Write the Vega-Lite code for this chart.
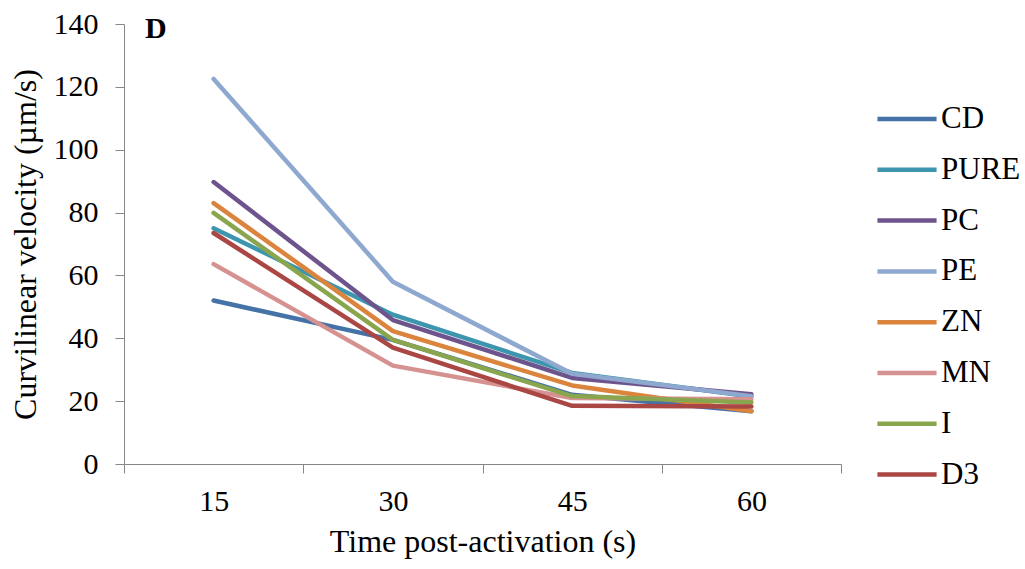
{
  "$schema": "https://vega.github.io/schema/vega-lite/v6.json",
  "autosize": "none",
  "width": 717,
  "height": 440,
  "padding": {"left": 124, "top": 24, "right": 184, "bottom": 105},
  "background": "white",
  "config": {
    "view": {"stroke": null},
    "font": "Liberation Serif",
    "axis": {"grid": false, "domainColor": "#868686", "tickColor": "#868686", "tickSize": 9, "labelFont": "Liberation Serif", "titleFont": "Liberation Serif", "labelColor": "black", "titleColor": "black", "titleFontWeight": "normal", "labelFontSize": 30, "titleFontSize": 32},
    "legend": {"labelFont": "Liberation Serif"}
  },
  "datasets": {
    "series": [
      {"t": "15", "g": "CD", "v": 52}, {"t": "30", "g": "CD", "v": 39.5}, {"t": "45", "g": "CD", "v": 22}, {"t": "60", "g": "CD", "v": 16.8},
      {"t": "15", "g": "PURE", "v": 75}, {"t": "30", "g": "PURE", "v": 47.5}, {"t": "45", "g": "PURE", "v": 29}, {"t": "60", "g": "PURE", "v": 21.5},
      {"t": "15", "g": "PC", "v": 89.7}, {"t": "30", "g": "PC", "v": 45.8}, {"t": "45", "g": "PC", "v": 27.4}, {"t": "60", "g": "PC", "v": 22.2},
      {"t": "15", "g": "PE", "v": 122.5}, {"t": "30", "g": "PE", "v": 58}, {"t": "45", "g": "PE", "v": 28.7}, {"t": "60", "g": "PE", "v": 21.6},
      {"t": "15", "g": "ZN", "v": 83}, {"t": "30", "g": "ZN", "v": 42.3}, {"t": "45", "g": "ZN", "v": 25}, {"t": "60", "g": "ZN", "v": 16.8},
      {"t": "15", "g": "MN", "v": 63.6}, {"t": "30", "g": "MN", "v": 31.3}, {"t": "45", "g": "MN", "v": 21}, {"t": "60", "g": "MN", "v": 20.6},
      {"t": "15", "g": "I", "v": 79.9}, {"t": "30", "g": "I", "v": 39.5}, {"t": "45", "g": "I", "v": 21.6}, {"t": "60", "g": "I", "v": 19.6},
      {"t": "15", "g": "D3", "v": 73.5}, {"t": "30", "g": "D3", "v": 37}, {"t": "45", "g": "D3", "v": 18.5}, {"t": "60", "g": "D3", "v": 18.3}
    ],
    "panel": [{"t": "15", "label": "D", "top": 138.1, "bottom": 128.5}]
  },
  "encoding": {
    "x": {"field": "t", "type": "ordinal", "sort": ["15", "30", "45", "60"],
      "scale": {"type": "band", "paddingInner": 0, "paddingOuter": 0},
      "axis": {"title": "Time post-activation (s)", "labelAngle": 0, "tickBand": "extent", "labelPadding": 13, "titlePadding": 10, "labelFont": "Liberation Serif", "titleFont": "Liberation Serif"}}
  },
  "layer": [
    {
      "data": {"name": "series"},
      "mark": {"type": "line", "strokeWidth": 4.5, "strokeCap": "round", "strokeJoin": "round"},
      "encoding": {
        "y": {"field": "v", "type": "quantitative",
          "scale": {"domain": [0, 140], "nice": false},
          "axis": {"title": "Curvilinear velocity (µm/s)", "values": [0, 20, 40, 60, 80, 100, 120, 140], "labelPadding": 17, "titlePadding": 11, "labelFont": "Liberation Serif", "titleFont": "Liberation Serif"}},
        "color": {"field": "g", "type": "nominal",
          "sort": ["CD", "PURE", "PC", "PE", "ZN", "MN", "I", "D3"],
          "scale": {"domain": ["CD", "PURE", "PC", "PE", "ZN", "MN", "I", "D3"], "range": ["#4572A7", "#3D96AE", "#6E548D", "#8EA8D0", "#DB843D", "#D59290", "#89A54E", "#AA4643"]},
          "legend": {"title": null, "orient": "none", "legendX": 751, "legendY": 63, "symbolType": "stroke", "symbolSize": 3500, "symbolStrokeWidth": 4.5, "labelFontSize": 31, "labelFont": "Liberation Serif", "labelColor": "black", "labelOffset": 2, "rowPadding": 3.8, "padding": 0}}
      }
    },
    {
      "data": {"name": "panel"},
      "mark": {"type": "rect", "color": "white", "width": 4, "xOffset": -2},
      "encoding": {
        "x": {"field": "t", "type": "ordinal", "bandPosition": 0},
        "y": {"field": "top", "type": "quantitative"},
        "y2": {"field": "bottom"}
      }
    },
    {
      "data": {"name": "panel"},
      "mark": {"type": "text", "align": "left", "baseline": "alphabetic", "dx": 21, "dy": 14, "fontSize": 30, "fontWeight": "bold", "font": "Liberation Serif", "color": "black"},
      "encoding": {
        "x": {"field": "t", "type": "ordinal", "bandPosition": 0},
        "y": {"datum": 140, "type": "quantitative"},
        "text": {"field": "label"}
      }
    }
  ]
}
